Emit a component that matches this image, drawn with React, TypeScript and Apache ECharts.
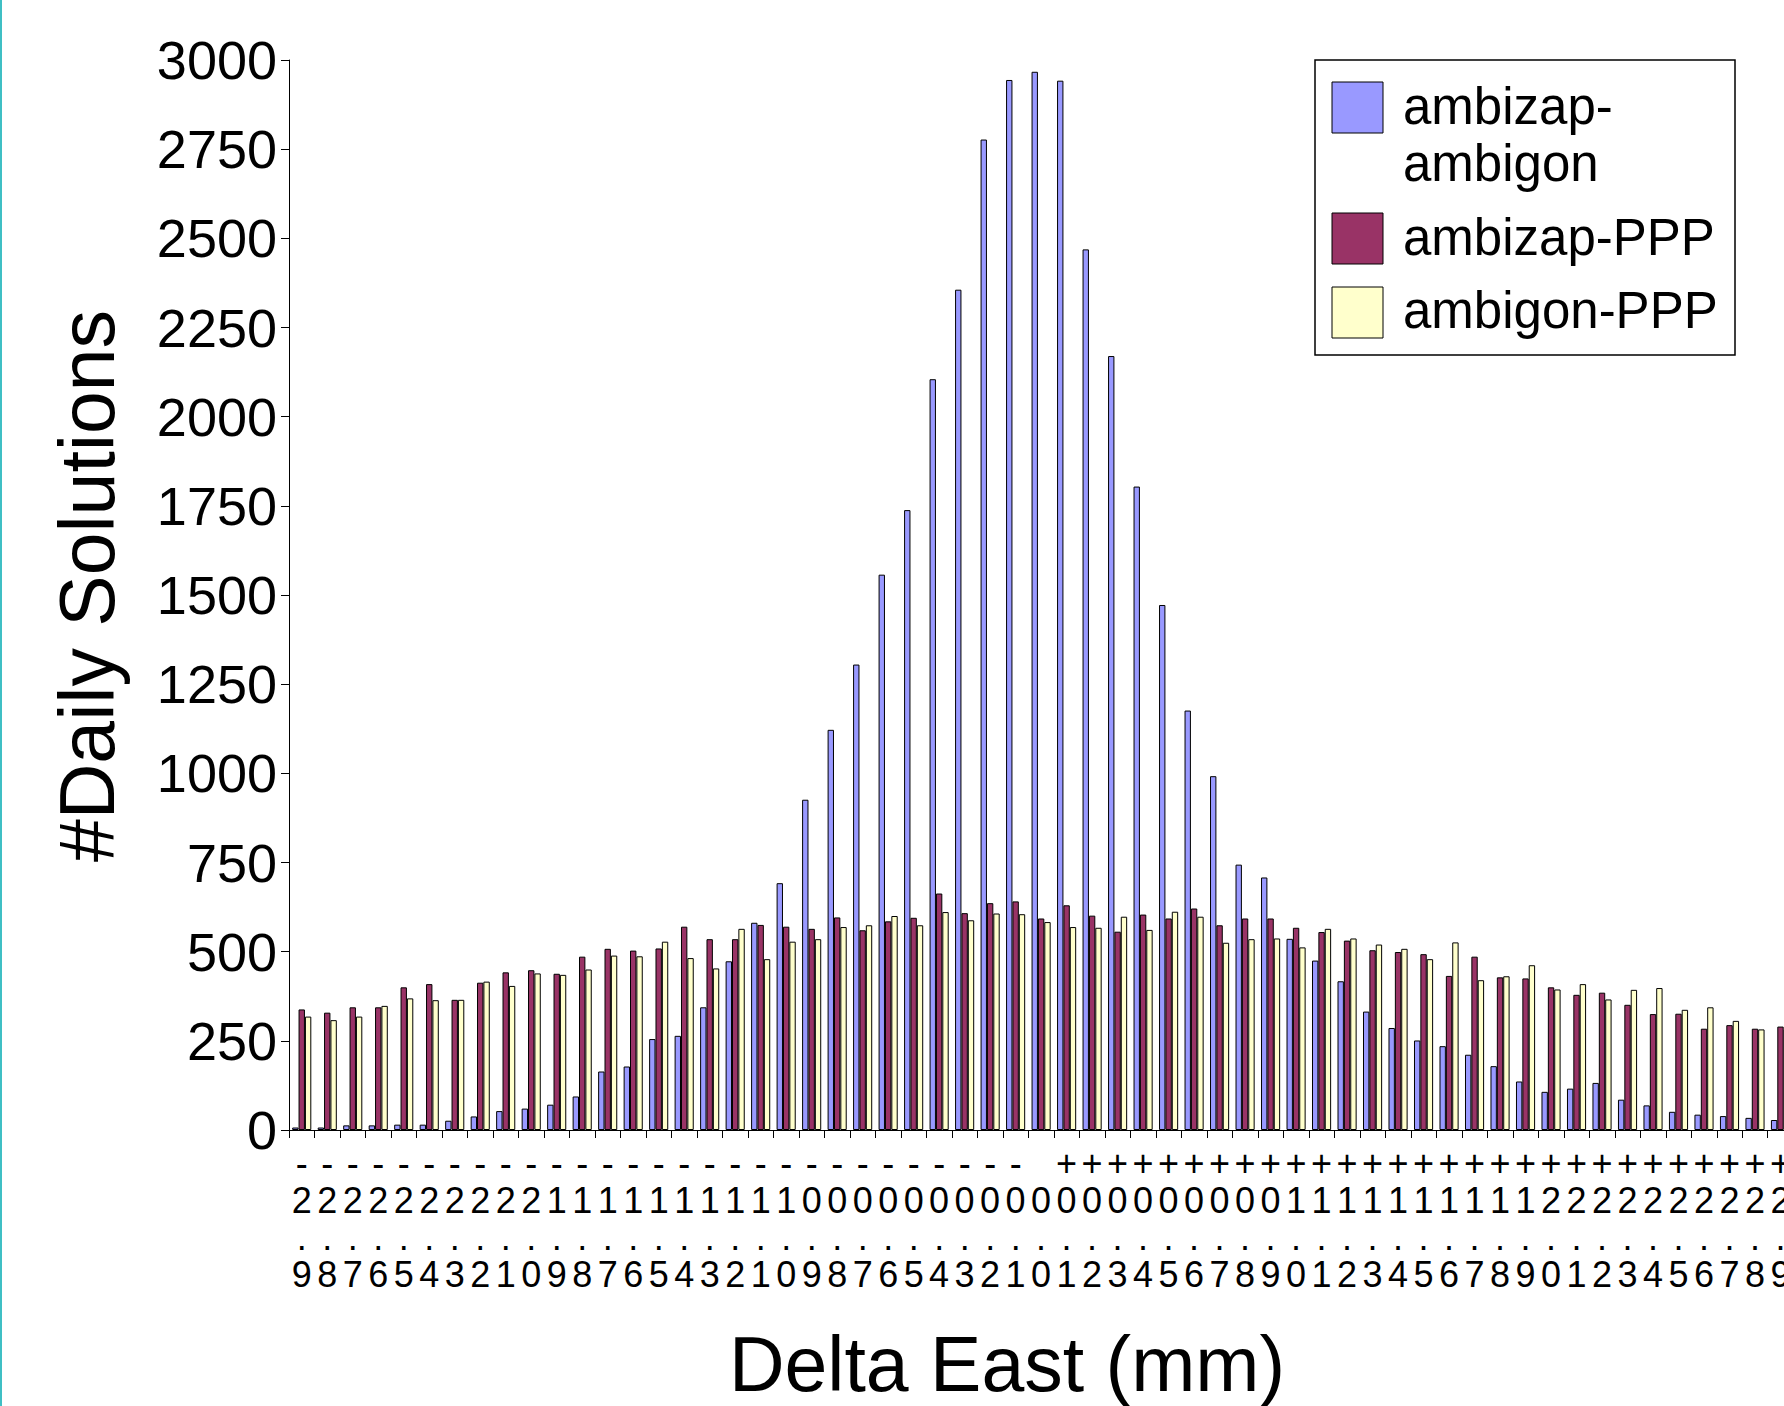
import React, { useEffect, useRef } from "react";
import * as echarts from "echarts";

const categories = [
  "-2.9", "-2.8", "-2.7", "-2.6", "-2.5", "-2.4", "-2.3", "-2.2", "-2.1", "-2.0",
  "-1.9", "-1.8", "-1.7", "-1.6", "-1.5", "-1.4", "-1.3", "-1.2", "-1.1", "-1.0",
  "-0.9", "-0.8", "-0.7", "-0.6", "-0.5", "-0.4", "-0.3", "-0.2", "-0.1", "0.0",
  "+0.1", "+0.2", "+0.3", "+0.4", "+0.5", "+0.6", "+0.7", "+0.8", "+0.9", "+1.0",
  "+1.1", "+1.2", "+1.3", "+1.4", "+1.5", "+1.6", "+1.7", "+1.8", "+1.9", "+2.0",
  "+2.1", "+2.2", "+2.3", "+2.4", "+2.5", "+2.6", "+2.7", "+2.8", "+2.9",
];

const ambizapAmbigon = [
  7, 7, 13, 13, 15, 15, 26, 38, 53, 60,
  71, 94, 164, 178, 255, 264, 344, 473, 581, 692,
  926, 1122, 1305, 1557, 1738, 2105, 2356, 2777, 2944, 2967,
  2942, 2469, 2170, 1804, 1472, 1176, 992, 744, 708, 536,
  475, 417, 332, 286, 251, 235, 211, 179, 136, 107,
  116, 132, 85, 69, 51, 43, 39, 34, 28,
];

const ambizapPPP = [
  338, 329, 344, 344, 400, 409, 365, 413, 442, 448,
  438, 486, 508, 503, 509, 570, 535, 535, 575, 570,
  564, 596, 560, 585, 595, 663, 608, 636, 641, 593,
  630, 601, 556, 604, 593, 621, 574, 593, 593, 567,
  555, 531, 504, 499, 493, 432, 486, 428, 425, 400,
  379, 385, 351, 325, 326, 284, 294, 284, 290,
];

const ambigonPPP = [
  318, 308, 318, 348, 369, 364, 365, 416, 404, 439,
  435, 450, 489, 487, 528, 482, 453, 564, 479, 528,
  535, 569, 574, 600, 574, 611, 588, 607, 605, 583,
  569, 567, 598, 561, 612, 598, 525, 535, 537, 512,
  564, 537, 520, 508, 479, 526, 420, 431, 462, 394,
  409, 366, 393, 398, 337, 344, 306, 282, 282,
];

const seriesNames = ["ambizap-ambigon", "ambizap-PPP", "ambigon-PPP"];
const legendLabels = ["ambizap-\nambigon", "ambizap-PPP", "ambigon-PPP"];
const seriesColors = ["#9999FF", "#993366", "#FFFFCC"];
const seriesData = [ambizapAmbigon, ambizapPPP, ambigonPPP];

const yMin = 0;
const yMax = 3000;
const yInterval = 250;

const xTitle = "Delta East (mm)";
const yTitle = "#Daily Solutions";

const FONT = "'Liberation Sans', Arial, sans-serif";
const NARROW = "'Liberation Sans Narrow', 'Liberation Sans', Arial, sans-serif";

export default function App() {
  const ref = useRef<HTMLDivElement>(null);

  useEffect(() => {
    if (!ref.current) return;
    const chart = echarts.init(ref.current, undefined, { renderer: "svg" });

    const legendSwatchY = [82, 213, 287];
    const legendTextY = [134.5, 237, 310];

    const graphics: any[] = [
      {
        type: "rect",
        shape: { x: 0, y: 0, width: 2, height: 1406 },
        style: { fill: "#3fbfc4" },
        silent: true,
      },
      {
        type: "rect",
        shape: { x: 1315, y: 60, width: 420, height: 295 },
        style: { fill: "#ffffff", stroke: "#000000", lineWidth: 1.5 },
        z: 10,
      },
      {
        type: "text",
        x: 1007,
        y: 1364,
        style: {
          text: xTitle,
          font: `77px ${FONT}`,
          fill: "#000",
          align: "center",
          verticalAlign: "middle",
        },
      },
      {
        type: "text",
        x: 87,
        y: 586,
        rotation: Math.PI / 2,
        style: {
          text: yTitle,
          font: `77px ${FONT}`,
          fill: "#000",
          align: "center",
          verticalAlign: "middle",
        },
      },
    ];

    legendLabels.forEach((label, i) => {
      graphics.push({
        type: "rect",
        shape: { x: 1332, y: legendSwatchY[i], width: 51, height: 51 },
        style: { fill: seriesColors[i], stroke: "#000", lineWidth: 1 },
        z: 11,
      });
      graphics.push({
        type: "text",
        x: 1403,
        y: legendTextY[i],
        style: {
          text: label,
          font: `51px ${FONT}`,
          lineHeight: 57,
          fill: "#000",
          align: "left",
          verticalAlign: "middle",
        },
        z: 11,
      });
    });

    chart.setOption({
      animation: false,
      backgroundColor: "#ffffff",
      grid: { left: 289, right: 0, top: 60, bottom: 276, containLabel: false },
      legend: { show: false, data: seriesNames },
      xAxis: {
        type: "category",
        data: categories,
        boundaryGap: true,
        axisLine: { show: true, lineStyle: { color: "#000", width: 1 } },
        axisTick: {
          show: true,
          alignWithLabel: false,
          interval: 0,
          length: 8,
          lineStyle: { color: "#000", width: 1 },
        },
        axisLabel: {
          interval: 0,
          margin: 15,
          color: "#000",
          fontFamily: NARROW,
          fontSize: 36,
          lineHeight: 37,
          verticalAlign: "top",
          formatter: (v: string) => {
            const s = v[0] === "-" || v[0] === "+" ? v : " " + v;
            return s.split("").join("\n");
          },
        },
        splitLine: { show: false },
      },
      yAxis: {
        type: "value",
        min: yMin,
        max: yMax,
        interval: yInterval,
        axisLine: { show: true, lineStyle: { color: "#000", width: 1 } },
        axisTick: { show: true, length: 8, lineStyle: { color: "#000", width: 1 } },
        axisLabel: {
          margin: 12,
          color: "#000",
          fontFamily: FONT,
          fontSize: 54,
          formatter: (v: number) => String(v),
        },
        splitLine: { show: false },
      },
      series: seriesNames.map((name, i) => ({
        name,
        type: "bar",
        data: seriesData[i],
        barGap: "0%",
        barCategoryGap: "25%",
        itemStyle: {
          color: seriesColors[i],
          borderColor: "#000",
          borderWidth: 1,
        },
      })),
      graphic: graphics,
    });

    return () => chart.dispose();
  }, []);

  return (
    <div
      style={{
        position: "fixed",
        left: 0,
        top: 0,
        width: 1784,
        height: 1406,
        overflow: "hidden",
        background: "#fff",
      }}
    >
      <div ref={ref} style={{ width: 1794, height: 1406 }} />
    </div>
  );
}
